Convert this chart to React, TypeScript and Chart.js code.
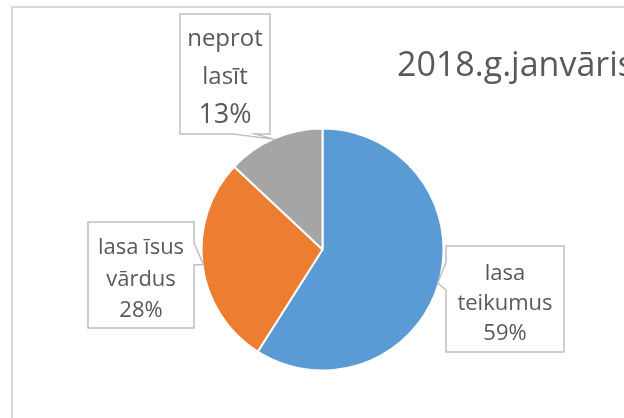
import React, { useEffect, useRef } from "react";
import { Chart, registerables } from "chart.js";

Chart.register(...registerables);

const title = "2018.g.janvāris";
const categories = ["lasa teikumus", "lasa īsus vārdus", "neprot lasīt"];
const labelLines = [["lasa", "teikumus"], ["lasa īsus", "vārdus"], ["neprot", "lasīt"]];
const values = [59, 28, 13];
const colors = ["#5B9BD5", "#ED7D31", "#A5A5A5"];

const FONT = "'Open Sans', 'Noto Sans', sans-serif";
const TEXT = "#595959";

// callout box layout (positions of the label boxes, not data)
type Callout = {
  x: number; y: number; w: number; h: number;
  side: "left" | "right" | "bottom";
  a: number; b: number; // wedge base range along the side
  size: number; pctSize: number;
  baselines: number[];
};
const callouts: Callout[] = [
  { x: 446, y: 246, w: 118, h: 106, side: "left", a: 262, b: 290, size: 22, pctSize: 22, baselines: [280, 310, 340] },
  { x: 88, y: 222, w: 106, h: 106, side: "right", a: 243, b: 265, size: 22, pctSize: 22, baselines: [254, 286, 317] },
  { x: 180, y: 14, w: 90, h: 120, side: "bottom", a: 233, b: 255, size: 24, pctSize: 27, baselines: [46, 84, 123] },
];

const calloutPlugin = {
  id: "callouts",
  afterDraw(chart: any) {
    const ctx = chart.ctx as CanvasRenderingContext2D;
    ctx.save();
    // outer chart border (cropped at right/bottom)
    ctx.strokeStyle = "#D9D9D9";
    ctx.lineWidth = 2;
    ctx.strokeRect(12, 7, 800, 600);

    // title
    ctx.fillStyle = TEXT;
    ctx.font = `34px ${FONT}`;
    ctx.textAlign = "left";
    ctx.textBaseline = "alphabetic";
    ctx.fillText(title, 397, 76);

    const meta = chart.getDatasetMeta(0);
    const total = values.reduce((s, v) => s + v, 0);
    meta.data.forEach((arc: any, i: number) => {
      const c = callouts[i];
      const p = arc.getProps(["x", "y", "startAngle", "endAngle", "outerRadius"], true);
      const mid = (p.startAngle + p.endAngle) / 2;
      const r = p.outerRadius - 1;
      const tx = p.x + Math.cos(mid) * r;
      const ty = p.y + Math.sin(mid) * r;
      const { x, y, w, h } = c;
      ctx.beginPath();
      ctx.moveTo(x, y);
      ctx.lineTo(x + w, y);
      if (c.side === "right") {
        ctx.lineTo(x + w, c.a);
        ctx.lineTo(tx, ty);
        ctx.lineTo(x + w, c.b);
      }
      ctx.lineTo(x + w, y + h);
      if (c.side === "bottom") {
        ctx.lineTo(c.b, y + h);
        ctx.lineTo(tx, ty);
        ctx.lineTo(c.a, y + h);
      }
      ctx.lineTo(x, y + h);
      if (c.side === "left") {
        ctx.lineTo(x, c.b);
        ctx.lineTo(tx, ty);
        ctx.lineTo(x, c.a);
      }
      ctx.closePath();
      ctx.fillStyle = "#FFFFFF";
      ctx.fill();
      ctx.strokeStyle = "#BFBFBF";
      ctx.lineWidth = 1.5;
      ctx.stroke();

      ctx.fillStyle = TEXT;
      ctx.textAlign = "center";
      ctx.textBaseline = "alphabetic";
      const cx = x + w / 2;
      const lines = labelLines[i];
      ctx.font = `${c.size}px ${FONT}`;
      lines.forEach((ln, k) => ctx.fillText(ln, cx, c.baselines[k]));
      ctx.font = `${c.pctSize}px ${FONT}`;
      const pct = Math.round((values[i] / total) * 100) + "%";
      ctx.fillText(pct, cx, c.baselines[lines.length]);
    });
    ctx.restore();
  },
};

export default function App() {
  const ref = useRef<HTMLCanvasElement | null>(null);
  useEffect(() => {
    if (!ref.current) return;
    const chart = new Chart(ref.current, {
      type: "pie",
      data: {
        labels: categories,
        datasets: [
          {
            data: values,
            backgroundColor: colors,
            borderColor: "#FFFFFF",
            borderWidth: 2,
          },
        ],
      },
      options: {
        responsive: false,
        devicePixelRatio: 1,
        animation: false,
        radius: 121,
        layout: { padding: { left: 200.5, right: 179.5, top: 127.5, bottom: 46.5 } },
        plugins: {
          legend: { display: false },
          tooltip: { enabled: false },
          title: { display: false },
        },
      } as any,
      plugins: [calloutPlugin],
    });
    return () => chart.destroy();
  }, []);
  return (
    <div
      style={{
        position: "fixed",
        left: 0,
        top: 0,
        width: 624,
        height: 418,
        overflow: "hidden",
        background: "#FFFFFF",
      }}
    >
      <canvas ref={ref} width={624} height={418} style={{ display: "block" }} />
    </div>
  );
}
